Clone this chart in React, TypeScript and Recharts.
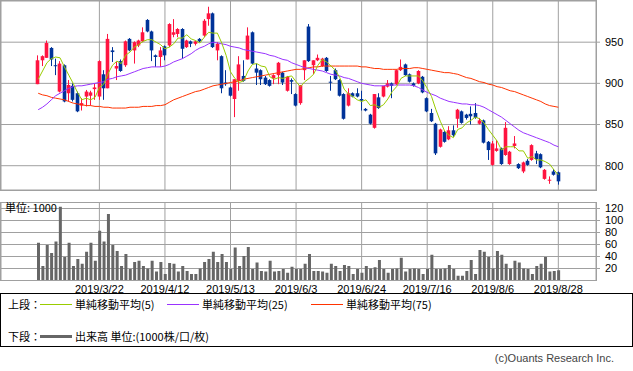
import { Bar, CartesianGrid, ComposedChart, Line, XAxis, YAxis } from 'recharts'

const opens = [
  899, 928, 931, 943, 922, 890, 922, 888, 897, 888, 873, 884, 885, 893, 884, 911, 894, 940, 918, 927,
  922, 954, 940, 946, 951, 977, 963, 934, 932, 945, 946, 959, 960, 966, 944, 951, 948, 954, 958, 978,
  985, 940, 933, 901, 895, 881, 903, 909, 929, 962, 918, 916, 907, 904, 906, 910, 913, 891, 904, 887,
  876, 916, 969, 922, 928, 921, 931, 902, 916, 904, 887, 873, 888, 888, 881, 869, 862, 846, 883, 884,
  896, 900, 899, 916, 923, 911, 900, 900, 908, 882, 864, 851, 823, 841, 832, 843, 857, 866, 862, 863,
  864, 851, 855, 829, 801, 818, 821, 813, 802, 824, 802, 793, 806, 807, 815, 814, 784, 782, 793, 792,
]
const highs = [
  934, 934, 952, 944, 930, 927, 923, 904, 900, 890, 882, 892, 891, 900, 928, 916, 960, 944, 926, 929,
  952, 955, 951, 953, 968, 978, 964, 935, 944, 946, 973, 978, 967, 967, 953, 952, 952, 955, 978, 993,
  986, 950, 934, 916, 896, 905, 933, 928, 968, 963, 924, 917, 909, 905, 911, 926, 914, 909, 906, 888,
  898, 928, 972, 928, 935, 931, 932, 909, 918, 905, 888, 894, 889, 894, 891, 870, 863, 887, 888, 897,
  904, 901, 917, 929, 924, 912, 901, 916, 909, 883, 869, 852, 845, 842, 848, 849, 869, 867, 863, 872,
  876, 858, 856, 830, 830, 831, 822, 853, 818, 836, 803, 805, 808, 826, 818, 815, 796, 787, 796, 793,
]
const lows = [
  899, 921, 931, 921, 910, 889, 877, 878, 878, 865, 867, 872, 873, 880, 880, 880, 894, 926, 904, 914,
  920, 939, 924, 944, 950, 962, 927, 920, 920, 928, 944, 956, 956, 930, 943, 944, 946, 950, 956, 970,
  943, 928, 888, 897, 884, 859, 891, 902, 929, 923, 898, 898, 898, 896, 899, 899, 898, 890, 887, 872,
  874, 904, 926, 911, 927, 920, 914, 891, 904, 884, 856, 872, 883, 883, 867, 866, 850, 845, 869, 883,
  895, 882, 898, 915, 909, 901, 896, 899, 888, 865, 853, 813, 822, 828, 831, 835, 846, 851, 856, 850,
  857, 850, 827, 807, 800, 817, 801, 812, 801, 821, 796, 791, 800, 806, 802, 797, 783, 778, 788, 777,
]
const closes = [
  928, 933, 949, 929, 921, 924, 878, 898, 880, 866, 876, 890, 889, 895, 927, 894, 954, 938, 921, 915,
  951, 940, 950, 952, 962, 963, 940, 932, 940, 934, 972, 962, 966, 942, 952, 948, 951, 951, 976, 985,
  944, 948, 894, 899, 885, 905, 923, 903, 958, 924, 913, 905, 899, 897, 910, 925, 901, 908, 902, 873,
  898, 928, 927, 928, 931, 930, 915, 901, 905, 885, 857, 888, 884, 884, 879, 867, 851, 887, 870, 897,
  900, 897, 916, 920, 910, 902, 897, 915, 889, 866, 854, 815, 844, 829, 843, 837, 868, 852, 858, 860,
  858, 855, 828, 819, 827, 821, 802, 846, 817, 827, 797, 804, 801, 825, 808, 798, 795, 783, 789, 781,
]
const ma5 = [
  905, 915, 925, 930, 932, 931, 920, 910, 900, 889, 880, 882, 880, 883, 895, 899, 912, 922, 927, 924,
  934, 938, 944, 947, 951, 953, 953, 950, 947, 942, 944, 948, 955, 955, 959, 954, 952, 949, 956, 962,
  961, 961, 949, 934, 914, 906, 901, 903, 915, 923, 924, 921, 920, 908, 905, 907, 906, 908, 909, 902,
  896, 902, 906, 911, 922, 929, 926, 921, 916, 907, 893, 887, 884, 880, 878, 880, 873, 874, 871, 874,
  881, 890, 896, 906, 909, 909, 909, 909, 903, 894, 884, 868, 854, 842, 837, 834, 844, 846, 852, 855,
  859, 857, 852, 844, 837, 830, 819, 823, 823, 823, 818, 818, 809, 811, 807, 807, 805, 802, 795, 789,
]
const ma25 = [
  868, 871, 875, 880, 885, 888, 891, 894, 896, 897, 897, 898, 899, 900, 901, 902, 905, 906, 908, 909,
  910, 912, 914, 916, 918, 919, 920, 920, 920, 921, 923, 926, 928, 930, 933, 936, 940, 943, 945, 948,
  950, 949, 948, 947, 945, 944, 943, 941, 940, 939, 938, 937, 936, 934, 933, 931, 929, 928, 925, 923,
  921, 919, 918, 917, 916, 915, 913, 911, 910, 909, 907, 906, 904, 902, 900, 899, 898, 897, 897, 897,
  898, 898, 898, 898, 898, 898, 897, 895, 892, 889, 887, 885, 882, 880, 878, 877, 876, 875, 875, 874,
  874, 873, 871, 868, 865, 862, 859, 855, 851, 847, 843, 840, 838, 836, 834, 832, 830, 828, 825, 823,
]
const ma75 = [
  888, 886, 885, 883, 882, 881, 880, 878, 876, 875, 874, 873, 873, 872, 872, 871, 871, 870, 870, 870,
  870, 871, 871, 871, 872, 872, 872, 873, 873, 874, 877, 880, 882, 884, 886, 888, 890, 891, 893, 895,
  897, 898, 899, 900, 901, 902, 903, 905, 906, 907, 908, 909, 910, 911, 912, 913, 914, 915, 916, 917,
  917, 918, 919, 920, 920, 921, 921, 921, 921, 921, 921, 921, 921, 921, 920, 920, 919, 918, 918, 917,
  917, 917, 917, 918, 918, 918, 919, 919, 918, 917, 916, 915, 914, 913, 913, 912, 911, 909, 907, 906,
  904, 902, 901, 899, 898, 896, 895, 893, 891, 890, 888, 886, 884, 882, 880, 878, 875, 873, 872, 871,
]
const volumes = [
  63, 24, 59, 46, 65, 123, 39, 63, 24, 36, 28, 48, 63, 33, 83, 65, 111, 59, 49, 24,
  44, 19, 31, 33, 24, 20, 33, 15, 31, 11, 29, 28, 15, 24, 16, 11, 11, 20, 31, 36,
  48, 31, 44, 31, 19, 55, 24, 41, 56, 19, 30, 16, 15, 33, 15, 16, 19, 13, 23, 19,
  19, 28, 44, 16, 16, 15, 13, 28, 24, 16, 26, 24, 11, 19, 13, 24, 20, 22, 34, 19,
  13, 19, 20, 38, 15, 19, 20, 19, 11, 19, 43, 19, 19, 20, 26, 19, 8, 8, 16, 34,
  11, 51, 48, 39, 20, 49, 43, 28, 20, 33, 30, 20, 19, 11, 24, 28, 39, 15, 16, 17,
]
const tickIndexes = [14, 29, 44, 59, 74, 89, 104, 119]
const tickLabels = ['2019/3/22', '2019/4/12', '2019/5/13', '2019/6/3', '2019/6/24', '2019/7/16', '2019/8/6', '2019/8/28']
const priceTicks = [800, 850, 900, 950]
const volumeTicks = [20, 40, 60, 80, 100, 120]

const UP = '#ff1440'
const DOWN = '#003399'
const GRID = '#a0a0a0'

const data = opens.map((o, i) => ({
  i,
  o,
  h: highs[i],
  l: lows[i],
  c: closes[i],
  range: [lows[i], highs[i]],
  ma5: ma5[i],
  ma25: ma25[i],
  ma75: ma75[i],
  vol: volumes[i],
}))

const dateLabel = (v: number) => tickLabels[tickIndexes.indexOf(v)] ?? ''

function Candle(props: any) {
  const { x, y, width, height, payload } = props
  if (!payload) return null
  const { o, h, l, c } = payload
  const top = Math.min(y, y + height)
  const span = Math.abs(height)
  const k = span / (h - l)
  const cx = Math.floor(x + width / 2) + 0.5
  const bodyTop = top + (h - Math.max(o, c)) * k
  const bodyH = Math.max(1, Math.abs(o - c) * k)
  const color = c >= o ? UP : DOWN
  return (
    <g>
      <line x1={cx} x2={cx} y1={top} y2={top + span} stroke={color} strokeWidth={1} />
      <rect x={cx - 1.8} y={bodyTop} width={3.6} height={bodyH} fill={color} />
    </g>
  )
}

const tickStyle = { fontSize: 11, fill: '#000', fontFamily: 'Liberation Sans' }
const cjk = '"Noto Sans CJK JP", "Liberation Sans", sans-serif'

function LegendItem({ x, y, color, thick, label }: { x: number; y: number; color: string; thick?: boolean; label: string }) {
  return (
    <>
      <div style={{ position: 'absolute', left: x, top: y - (thick ? 1 : 0), width: 32, height: thick ? 3 : 1, background: color }} />
      <div style={{ position: 'absolute', left: x + 35, top: y - 7, fontSize: 11, lineHeight: '14px', whiteSpace: 'nowrap' }}>{label}</div>
    </>
  )
}

export default function App() {
  return (
    <div style={{ position: 'absolute', left: 0, top: 0, width: 633, height: 371, background: '#fff', fontFamily: cjk, color: '#000', overflow: 'hidden' }}>
      <div style={{ position: 'absolute', left: 0, top: 0 }}>
        <ComposedChart width={633} height={191} data={data} margin={{ top: 1, right: 0, bottom: 1, left: 1 }}>
          <CartesianGrid stroke={GRID} />
          <XAxis dataKey='i' type='category' hide padding={{ left: 35, right: 35.5 }} ticks={tickIndexes} />
          <YAxis
            orientation='right'
            width={37}
            domain={[770.5, 1000]}
            ticks={priceTicks}
            interval={0}
            allowDataOverflow
            axisLine={false}
            tickLine={{ stroke: GRID }}
            tickSize={4}
            tickMargin={5}
            tick={{ ...tickStyle, textAnchor: 'start' }}
          />
          <Bar dataKey='range' shape={<Candle />} isAnimationActive={false} />
          <Line type='linear' dataKey='ma75' stroke='#ff3300' strokeWidth={1} dot={false} isAnimationActive={false} />
          <Line type='linear' dataKey='ma25' stroke='#9933ff' strokeWidth={1} dot={false} isAnimationActive={false} />
          <Line type='linear' dataKey='ma5' stroke='#99cc00' strokeWidth={1} dot={false} isAnimationActive={false} />
        </ComposedChart>
      </div>
      <div style={{ position: 'absolute', left: 0, top: 190 }}>
        <ComposedChart width={633} height={105} data={data} margin={{ top: 12.5, right: 0, bottom: 0, left: 1 }}>
          <CartesianGrid stroke={GRID} />
          <XAxis
            dataKey='i'
            type='category'
            padding={{ left: 35, right: 35.5 }}
            ticks={tickIndexes}
            interval={0}
            tickFormatter={dateLabel}
            height={14.5}
            axisLine={false}
            tickLine={false}
            tickSize={2}
            tickMargin={3}
            tick={tickStyle}
          />
          <YAxis
            orientation='right'
            width={37}
            domain={[0, 130]}
            ticks={volumeTicks}
            interval={0}
            allowDataOverflow
            axisLine={false}
            tickLine={{ stroke: GRID }}
            tickSize={4}
            tickMargin={5}
            tick={{ ...tickStyle, textAnchor: 'start' }}
          />
          <Bar dataKey='vol' fill='#666666' barSize={3} isAnimationActive={false} />
        </ComposedChart>
      </div>
      <div style={{ position: 'absolute', left: 0, top: 0, width: 597, height: 191, boxSizing: 'border-box', border: `1px solid ${GRID}`, pointerEvents: 'none' }} />
      <div style={{ position: 'absolute', left: 0, top: 202, width: 597, height: 79, boxSizing: 'border-box', border: `1px solid ${GRID}`, pointerEvents: 'none' }} />
      <div style={{ position: 'absolute', left: 5, top: 200, fontSize: 11, lineHeight: '14px' }}>単位: 1000</div>
      <div style={{ position: 'absolute', left: 0, top: 293, width: 633, height: 54, boxSizing: 'border-box', border: '1px solid #000' }}>
        <div style={{ position: 'absolute', left: 7, top: 3, fontSize: 11, lineHeight: '14px' }}>上段：</div>
        <div style={{ position: 'absolute', left: 7, top: 35, fontSize: 11, lineHeight: '14px' }}>下段：</div>
        <LegendItem x={39} y={10} color='#99cc00' label='単純移動平均(5)' />
        <LegendItem x={166} y={10} color='#9933ff' label='単純移動平均(25)' />
        <LegendItem x={310} y={10} color='#ff3300' label='単純移動平均(75)' />
        <LegendItem x={39} y={42} color='#666666' thick label='出来高 単位:(1000株/口/枚)' />
      </div>
      <div style={{ position: 'absolute', right: 19, top: 351, fontSize: 11, lineHeight: '14px', color: '#444', fontFamily: 'Liberation Sans' }}>(c)Ouants Research Inc.</div>
    </div>
  )
}
